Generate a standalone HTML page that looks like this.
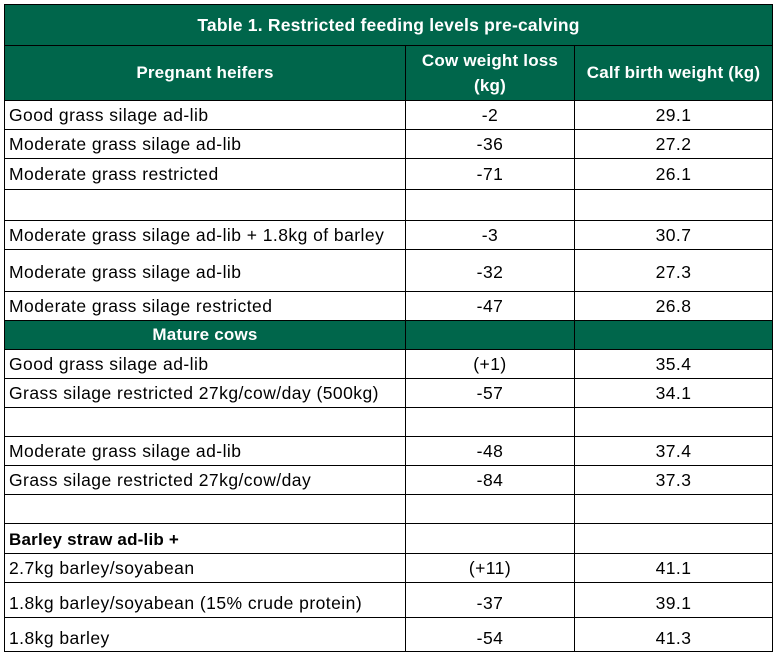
<!DOCTYPE html>
<html><head><meta charset="utf-8"><style>
body{margin:0;width:778px;height:657px;background:#fff;font-family:"Liberation Sans",sans-serif;position:relative;overflow:hidden}
.r{position:absolute;left:4px;width:769px;border-top:1px solid #000;box-sizing:border-box}
.c{position:absolute;top:0;bottom:0;display:flex;align-items:flex-end;box-sizing:border-box;font-size:17.5px;letter-spacing:.45px;color:#000;white-space:nowrap}
.c1{left:0;width:401px;padding-left:4px;border-left:1px solid #000}
.c2{left:401px;width:169px;justify-content:center;border-left:1px solid #000}
.c3{left:570px;width:199px;justify-content:center;border-left:1px solid #000;border-right:1px solid #000}
.g{background:#00664b}
.g .c{color:#fff;font-weight:bold;font-size:17px;letter-spacing:.2px}
</style></head><body>
<div class="r g" style="top:4px;height:41px"><div class="c" style="left:0;width:769px;border-left:1px solid #000;border-right:1px solid #000;justify-content:center;align-items:center;font-size:17.5px">Table 1. Restricted feeding levels pre-calving</div></div>
<div class="r g" style="top:45px;height:55px">
<div class="c c1" style="justify-content:center;align-items:center;padding-left:0">Pregnant heifers</div>
<div class="c c2" style="align-items:center;text-align:center;line-height:25px">Cow weight loss<br>(kg)</div>
<div class="c c3" style="align-items:center">Calf birth weight (kg)</div></div>

<div class="r" style="top:100px;height:29px"><div class="c c1" style="padding-bottom:3px">Good grass silage ad-lib</div><div class="c c2" style="padding-bottom:3px">-2</div><div class="c c3" style="padding-bottom:3px">29.1</div></div>
<div class="r" style="top:129px;height:29px"><div class="c c1" style="padding-bottom:3px">Moderate grass silage ad-lib</div><div class="c c2" style="padding-bottom:3px">-36</div><div class="c c3" style="padding-bottom:3px">27.2</div></div>
<div class="r" style="top:158px;height:31px"><div class="c c1" style="padding-bottom:4px">Moderate grass restricted</div><div class="c c2" style="padding-bottom:4px">-71</div><div class="c c3" style="padding-bottom:4px">26.1</div></div>
<div class="r" style="top:189px;height:31px"><div class="c c1"></div><div class="c c2"></div><div class="c c3"></div></div>
<div class="r" style="top:220px;height:29px"><div class="c c1" style="padding-bottom:3px">Moderate grass silage ad-lib + 1.8kg of barley</div><div class="c c2" style="padding-bottom:3px">-3</div><div class="c c3" style="padding-bottom:3px">30.7</div></div>
<div class="r" style="top:249px;height:42px"><div class="c c1" style="padding-bottom:8px">Moderate grass silage ad-lib</div><div class="c c2" style="padding-bottom:8px">-32</div><div class="c c3" style="padding-bottom:8px">27.3</div></div>
<div class="r" style="top:291px;height:29px"><div class="c c1" style="padding-bottom:3px">Moderate grass silage restricted</div><div class="c c2" style="padding-bottom:3px">-47</div><div class="c c3" style="padding-bottom:3px">26.8</div></div>
<div class="r g" style="top:320px;height:29px"><div class="c c1" style="justify-content:center;align-items:center;padding-left:0">Mature cows</div><div class="c c2"></div><div class="c c3"></div></div>
<div class="r" style="top:349px;height:29px"><div class="c c1" style="padding-bottom:3px">Good grass silage ad-lib</div><div class="c c2" style="padding-bottom:3px">(+1)</div><div class="c c3" style="padding-bottom:3px">35.4</div></div>
<div class="r" style="top:378px;height:29px"><div class="c c1" style="padding-bottom:3px">Grass silage restricted 27kg/cow/day (500kg)</div><div class="c c2" style="padding-bottom:3px">-57</div><div class="c c3" style="padding-bottom:3px">34.1</div></div>
<div class="r" style="top:407px;height:29px"><div class="c c1"></div><div class="c c2"></div><div class="c c3"></div></div>
<div class="r" style="top:436px;height:29px"><div class="c c1" style="padding-bottom:3px">Moderate grass silage ad-lib</div><div class="c c2" style="padding-bottom:3px">-48</div><div class="c c3" style="padding-bottom:3px">37.4</div></div>
<div class="r" style="top:465px;height:29px"><div class="c c1" style="padding-bottom:3px">Grass silage restricted 27kg/cow/day</div><div class="c c2" style="padding-bottom:3px">-84</div><div class="c c3" style="padding-bottom:3px">37.3</div></div>
<div class="r" style="top:494px;height:29px"><div class="c c1"></div><div class="c c2"></div><div class="c c3"></div></div>
<div class="r" style="top:523px;height:30px"><div class="c c1" style="padding-bottom:3px;font-weight:bold;font-size:17px;letter-spacing:.2px">Barley straw ad-lib +</div><div class="c c2"></div><div class="c c3"></div></div>
<div class="r" style="top:553px;height:29px"><div class="c c1" style="padding-bottom:3px">2.7kg barley/soyabean</div><div class="c c2" style="padding-bottom:3px">(+11)</div><div class="c c3" style="padding-bottom:3px">41.1</div></div>
<div class="r" style="top:582px;height:35px"><div class="c c1" style="padding-bottom:3px">1.8kg barley/soyabean (15% crude protein)</div><div class="c c2" style="padding-bottom:3px">-37</div><div class="c c3" style="padding-bottom:3px">39.1</div></div>
<div class="r" style="top:617px;height:35px;border-bottom:1px solid #000"><div class="c c1" style="padding-bottom:2px">1.8kg barley</div><div class="c c2" style="padding-bottom:2px">-54</div><div class="c c3" style="padding-bottom:2px">41.3</div></div>
</body></html>
